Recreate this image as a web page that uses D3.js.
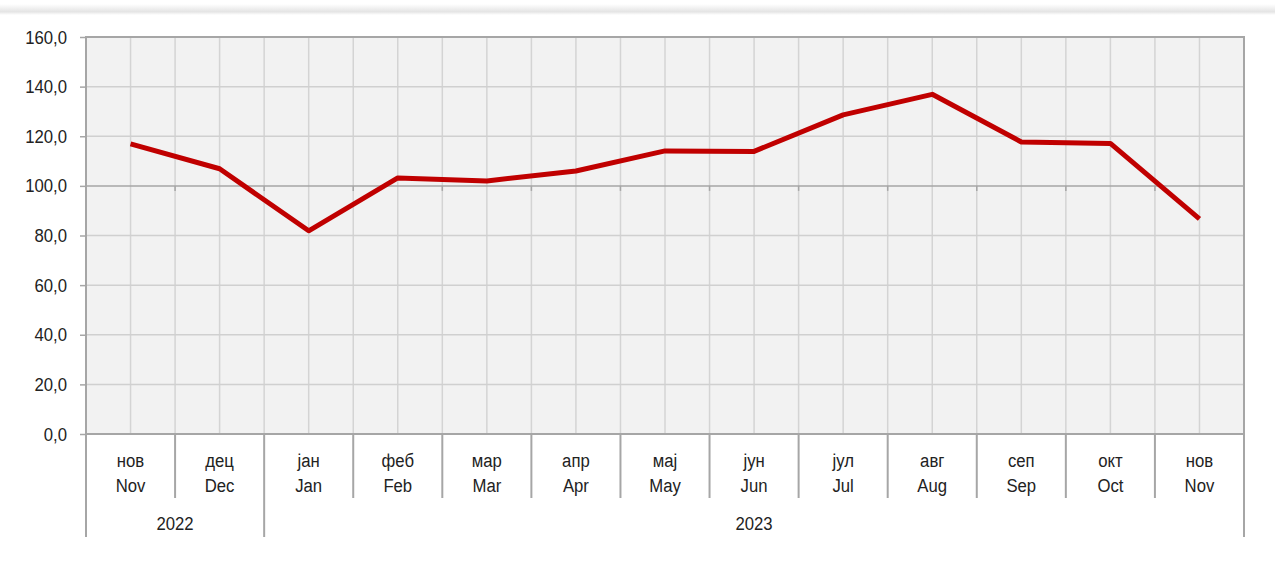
<!DOCTYPE html>
<html>
<head>
<meta charset="utf-8">
<script src="https://cdn.jsdelivr.net/npm/d3@7"></script>
<style>
body { margin: 0; background: #fff; }
text { font-family: "Liberation Sans", Arial, sans-serif; fill: #222; }
</style>
</head>
<body>
<script>
var monthsSr = ["нов", "дец", "јан", "феб", "мар", "апр", "мај", "јун", "јул", "авг", "сеп", "окт", "нов"];
var monthsEn = ["Nov", "Dec", "Jan", "Feb", "Mar", "Apr", "May", "Jun", "Jul", "Aug", "Sep", "Oct", "Nov"];
var years = [{label: "2022", from: 0, to: 2}, {label: "2023", from: 2, to: 13}];
var values = [116.9, 106.9, 81.9, 103.2, 102.0, 106.0, 114.1, 113.9, 128.6, 136.9, 117.7, 117.1, 86.7];
var yTicks = [0, 20, 40, 60, 80, 100, 120, 140, 160];

var svgWidth = 1275;
var svgHeight = 571;
var margin = {top: 37, right: 31, bottom: 137, left: 86};
var plotW = svgWidth - margin.left - margin.right;
var plotH = svgHeight - margin.top - margin.bottom;
var squeeze = 0.88; // labels in the original use a narrow face

var svg = d3.select("body")
        .append("svg")
        .attr("width", svgWidth)
        .attr("height", svgHeight);

// faint shadow band at the top
var grad = svg.append("defs").append("linearGradient")
        .attr("id", "shade").attr("x1", 0).attr("y1", 0).attr("x2", 0).attr("y2", 1);
grad.append("stop").attr("offset", "0%").attr("stop-color", "#fff");
grad.append("stop").attr("offset", "70%").attr("stop-color", "#e4e4e4");
grad.append("stop").attr("offset", "100%").attr("stop-color", "#fff");
svg.append("rect").attr("x", 0).attr("y", 4).attr("width", svgWidth).attr("height", 11)
        .attr("fill", "url(#shade)");

var idx = d3.range(values.length);

var xScale = d3.scaleBand()
        .domain(idx)
        .range([margin.left, margin.left + plotW]);

var yScale = d3.scaleLinear()
        .domain([0, 160])
        .range([margin.top + plotH, margin.top]);

var bw = xScale.bandwidth();

// plot background
svg.append("rect")
        .attr("x", margin.left).attr("y", margin.top)
        .attr("width", plotW).attr("height", plotH)
        .attr("fill", "#f2f2f2");

// vertical grid: at category centres and boundaries
var vLines = [];
idx.forEach(function (i) {
    if (i > 0) vLines.push(xScale(i));
    vLines.push(xScale(i) + bw / 2);
});
svg.append("g").selectAll("line")
        .data(vLines)
        .enter().append("line")
        .attr("x1", function (d) { return d; })
        .attr("x2", function (d) { return d; })
        .attr("y1", margin.top)
        .attr("y2", margin.top + plotH)
        .attr("stroke", "#d4d4d4")
        .attr("stroke-width", 1.5);

// horizontal grid
svg.append("g").selectAll("line")
        .data(yTicks.filter(function (d) { return d > 0 && d < 160; }))
        .enter().append("line")
        .attr("x1", margin.left)
        .attr("x2", margin.left + plotW)
        .attr("y1", function (d) { return yScale(d); })
        .attr("y2", function (d) { return yScale(d); })
        .attr("stroke", function (d) { return d === 100 ? "#a6a6a6" : "#d0d0d0"; })
        .attr("stroke-width", 1.5);

// small ticks on the 100 line
svg.append("g").selectAll("line")
        .data(idx.slice(1))
        .enter().append("line")
        .attr("x1", function (d) { return xScale(d); })
        .attr("x2", function (d) { return xScale(d); })
        .attr("y1", yScale(100))
        .attr("y2", yScale(100) + 5)
        .attr("stroke", "#a6a6a6")
        .attr("stroke-width", 1.5);

// frame
svg.append("rect")
        .attr("x", margin.left).attr("y", margin.top)
        .attr("width", plotW).attr("height", plotH)
        .attr("fill", "none")
        .attr("stroke", "#a6a6a6")
        .attr("stroke-width", 2);

// y axis
var yAxis = d3.axisLeft(yScale)
        .tickValues(yTicks)
        .tickSize(6)
        .tickPadding(12)
        .tickFormat(function (d) { return d3.format(".1f")(d).replace(".", ","); });

var gy = svg.append("g")
        .attr("transform", "translate(" + margin.left + ",0)")
        .call(yAxis);
gy.select(".domain").remove();
gy.selectAll(".tick line").attr("stroke", "#a6a6a6").attr("stroke-width", 1.5);
gy.selectAll(".tick text")
        .attr("font-size", 19)
        .attr("fill", "#222")
        .attr("font-family", "Liberation Sans, Arial, sans-serif")
        .attr("x", -19 / squeeze)
        .attr("transform", "scale(" + squeeze + ",1)");

// category separators below the axis
var base = margin.top + plotH;
var yearStarts = years.map(function (y) { return y.from; }).concat([values.length]);
svg.append("g").selectAll("line")
        .data(d3.range(values.length + 1))
        .enter().append("line")
        .attr("x1", function (d) { return d < values.length ? xScale(d) : margin.left + plotW; })
        .attr("x2", function (d) { return d < values.length ? xScale(d) : margin.left + plotW; })
        .attr("y1", base)
        .attr("y2", function (d) { return yearStarts.indexOf(d) >= 0 ? base + 103 : base + 64; })
        .attr("stroke", "#a6a6a6")
        .attr("stroke-width", 2);

// month labels
function place(x, y) {
    return "translate(" + x + "," + y + ") scale(" + squeeze + ",1)";
}
var labels = svg.append("g").attr("text-anchor", "middle").attr("font-size", 19);
labels.selectAll("text.sr")
        .data(monthsSr)
        .enter().append("text")
        .attr("class", "sr")
        .attr("transform", function (d, i) { return place(xScale(i) + bw / 2, base + 33); })
        .text(function (d) { return d; });
labels.selectAll("text.en")
        .data(monthsEn)
        .enter().append("text")
        .attr("class", "en")
        .attr("transform", function (d, i) { return place(xScale(i) + bw / 2, base + 58); })
        .text(function (d) { return d; });

// year labels
labels.selectAll("text.yr")
        .data(years)
        .enter().append("text")
        .attr("class", "yr")
        .attr("transform", function (d) {
            var x0 = xScale(d.from);
            var x1 = d.to < values.length ? xScale(d.to) : margin.left + plotW;
            return place((x0 + x1) / 2, base + 96);
        })
        .text(function (d) { return d.label; });

// data line
var lineFunc = d3.line()
        .x(function (d, i) { return xScale(i) + bw / 2; })
        .y(function (d) { return yScale(d); });

svg.append("path")
        .attr("d", lineFunc(values))
        .attr("stroke", "#c00000")
        .attr("stroke-width", 5)
        .attr("stroke-linejoin", "round")
        .attr("fill", "none");
</script>
</body>
</html>
